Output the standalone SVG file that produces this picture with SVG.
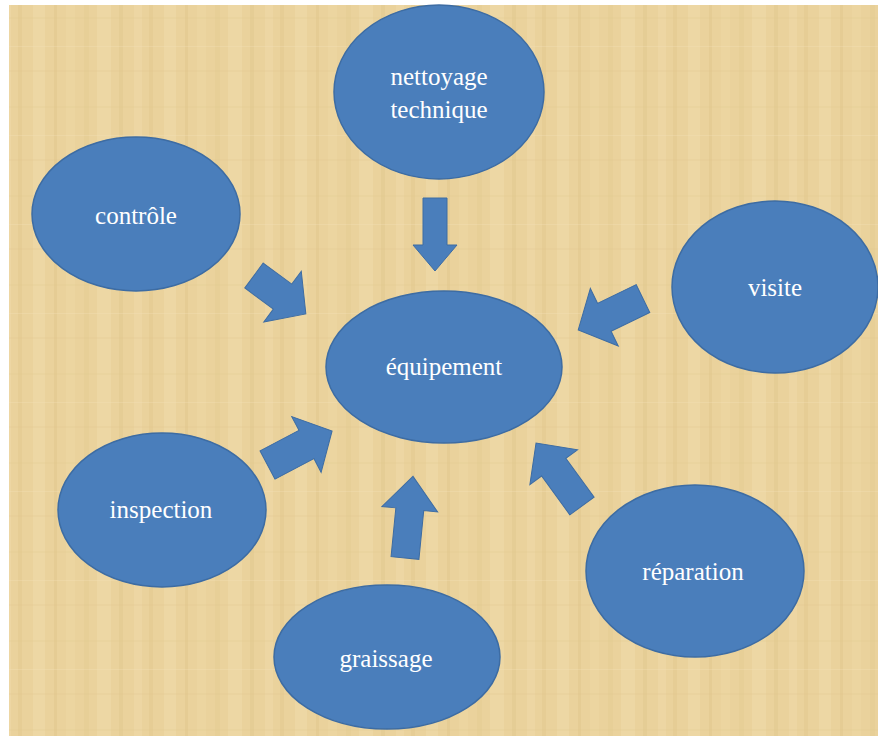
<svg xmlns="http://www.w3.org/2000/svg" width="878" height="736" viewBox="0 0 878 736">
  <style>
    .node ellipse { fill: #4A7EBB; stroke: #3D6CA3; stroke-width: 1.5; }
    .node text { font-family: "Liberation Serif", "Times New Roman", serif; font-size: 25px; fill: #FFFFFF; text-anchor: middle; }
    .arrow { fill: #4A7EBB; stroke: #3D6CA3; stroke-width: 1; }
  </style>
  <defs>
    <pattern id="paper" width="131" height="89" patternUnits="userSpaceOnUse">
      <rect width="131" height="89" fill="#EAD29C"/>
      <rect x="3" y="0" width="8" height="89" fill="#F2DDAC" opacity="0.45"/>
      <rect x="18" y="0" width="4" height="89" fill="#DEC286" opacity="0.3"/>
      <rect x="33" y="0" width="12" height="89" fill="#F3E0B2" opacity="0.35"/>
      <rect x="54" y="0" width="3" height="89" fill="#DBBF82" opacity="0.3"/>
      <rect x="66" y="0" width="9" height="89" fill="#EFD9A5" opacity="0.45"/>
      <rect x="84" y="0" width="5" height="89" fill="#DFC488" opacity="0.28"/>
      <rect x="97" y="0" width="14" height="89" fill="#F3DFB0" opacity="0.38"/>
      <rect x="119" y="0" width="4" height="89" fill="#DCC084" opacity="0.3"/>
      <rect x="0" y="17" width="131" height="2" fill="#E0C68C" opacity="0.18"/>
      <rect x="0" y="46" width="131" height="1" fill="#F5E4BA" opacity="0.3"/>
      <rect x="0" y="70" width="131" height="2" fill="#DFC48A" opacity="0.18"/>
    </pattern>
  </defs>
  <rect width="878" height="736" fill="#FFFFFF"/>
  <rect x="9" y="5" width="869" height="731" fill="url(#paper)"/>

  <g id="connectors">
    <!-- nettoyage -> équipement -->
    <path class="arrow" transform="translate(435,198) rotate(90)" d="M0,-12 L47,-12 L47,-22 L73,0 L47,22 L47,12 L0,12 Z"/>
    <!-- contrôle -> équipement -->
    <path class="arrow" transform="translate(254,275.5) rotate(36.5)" d="M0,-15.5 L35.5,-15.5 L35.5,-31.5 L64.5,0 L35.5,31.5 L35.5,15.5 L0,15.5 Z"/>
    <!-- visite -> équipement -->
    <path class="arrow" transform="translate(643,298.5) rotate(154.1)" d="M0,-15.5 L43,-15.5 L43,-32 L72,0 L43,32 L43,15.5 L0,15.5 Z"/>
    <!-- inspection -> équipement -->
    <path class="arrow" transform="translate(267.5,465) rotate(-27.8)" d="M0,-16 L44,-16 L44,-31.5 L73,0 L44,31.5 L44,16 L0,16 Z"/>
    <!-- graissage -> équipement -->
    <path class="arrow" transform="translate(405,558) rotate(-84.4)" d="M0,-14 L49,-14 L49,-28 L82,0 L49,28 L49,14 L0,14 Z"/>
    <!-- réparation -> équipement -->
    <path class="arrow" transform="translate(582,506) rotate(-126.1)" d="M0,-15 L48,-15 L48,-29.5 L78,0 L48,29.5 L48,15 L0,15 Z"/>
  </g>

  <g id="node-nettoyage" class="node">
    <ellipse cx="439" cy="92" rx="105" ry="87"/>
    <text x="439" y="85">nettoyage</text>
    <text x="439" y="118">technique</text>
  </g>
  <g id="node-controle" class="node">
    <ellipse cx="136" cy="214" rx="104" ry="77"/>
    <text x="136" y="224">contrôle</text>
  </g>
  <g id="node-visite" class="node">
    <ellipse cx="775" cy="287" rx="103" ry="86"/>
    <text x="775" y="296">visite</text>
  </g>
  <g id="node-equipement" class="node">
    <ellipse cx="444" cy="367" rx="118" ry="76"/>
    <text x="444" y="375">équipement</text>
  </g>
  <g id="node-inspection" class="node">
    <ellipse cx="162" cy="510" rx="104" ry="77"/>
    <text x="161" y="518">inspection</text>
  </g>
  <g id="node-graissage" class="node">
    <ellipse cx="387" cy="657" rx="113" ry="72"/>
    <text x="386" y="667">graissage</text>
  </g>
  <g id="node-reparation" class="node">
    <ellipse cx="695" cy="571" rx="109" ry="86"/>
    <text x="693" y="580">réparation</text>
  </g>
</svg>
